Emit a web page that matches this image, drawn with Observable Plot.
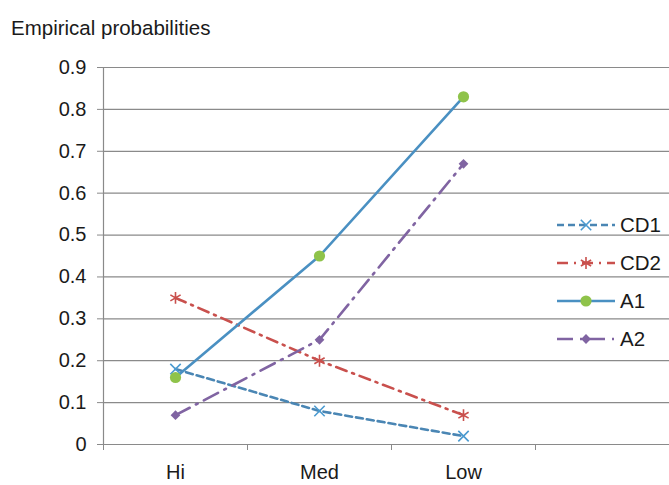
<!DOCTYPE html>
<html><head><meta charset="utf-8">
<script src="https://cdn.jsdelivr.net/npm/d3@7"></script>
<script src="https://cdn.jsdelivr.net/npm/@observablehq/plot@0.6"></script>
<style>
body{margin:0;background:#fff;font-family:"Liberation Sans",Arial,sans-serif;}
#wrap{position:relative;width:669px;height:485px;overflow:hidden;background:#fff;}
#title{position:absolute;left:11px;top:16px;font-size:20.5px;color:#1a1a1a;line-height:24px;white-space:nowrap;}
#chart{position:absolute;left:0;top:50px;}
#legend{position:absolute;left:555px;top:206px;}
.row{position:absolute;left:0;height:38px;display:flex;align-items:center;white-space:nowrap;font-size:20.5px;color:#1a1a1a;}
.row svg{display:block;margin-right:3px;}
</style></head>
<body>
<div id="wrap">
  <div id="title">Empirical probabilities</div>
  <div id="chart"></div>
  <div id="legend"></div>
</div>
<script>
// ---- data ----
const categories = ["Hi", "Med", "Low"];
const seriesNames = ["CD1", "CD2", "A1", "A2"];
const cd1 = [0.18, 0.08, 0.02];
const cd2 = [0.35, 0.20, 0.07];
const a1 = [0.16, 0.45, 0.83];
const a2 = [0.07, 0.25, 0.67];
const yTicks = [0, 0.1, 0.2, 0.3, 0.4, 0.5, 0.6, 0.7, 0.8, 0.9];

// ---- styles ----
const styles = {
  CD1: {line: "#4a86b4", marker: "#4a9ad0", dash: "7,4", symbol: "times", r: 4.8, fill: "none"},
  CD2: {line: "#c9504d", marker: "#c9504d", dash: "11,6,2,6", symbol: "asterisk", r: 5.6, fill: "none"},
  A1:  {line: "#4a90c2", marker: "#8fc34a", dash: null, symbol: "circle", r: 5.6, fill: "#8fc34a"},
  A2:  {line: "#8064a2", marker: "#8064a2", dash: "16,7,2,7", symbol: "diamond2", r: 4.4, fill: "#8064a2"}
};
const values = {CD1: cd1, CD2: cd2, A1: a1, A2: a2};
const rows = seriesNames.flatMap(s => values[s].map((v, i) => ({series: s, i, value: v})));

const grid = "#8a8a8a";
const marks = [
  Plot.ruleY(yTicks.filter(d => d > 0), {stroke: grid, strokeWidth: 1.2}),
  Plot.ruleY([0], {stroke: grid, strokeWidth: 1.2}),
  Plot.ruleX([-0.5], {stroke: grid, strokeWidth: 1.2}),
  Plot.axisY({ticks: yTicks, tickSize: 6, tickPadding: 11, stroke: grid, fontSize: 20, label: null,
    tickFormat: d => d === 0 ? "0" : d.toFixed(1)}),
  Plot.axisX({ticks: [-0.5, 0.5, 1.5, 2.5, 3.5], tickSize: 6, stroke: grid, label: null, tickFormat: () => ""}),
  Plot.axisX({ticks: [0, 1, 2], tickSize: 0, tickPadding: 20, fontSize: 20, label: null,
    tickFormat: i => categories[i]})
];
for (const s of seriesNames) {
  const st = styles[s];
  const data = rows.filter(d => d.series === s);
  marks.push(Plot.line(data, {x: "i", y: "value", stroke: st.line, strokeWidth: 2.6,
    strokeDasharray: st.dash || undefined}));
}
for (const s of seriesNames) {
  const st = styles[s];
  const data = rows.filter(d => d.series === s);
  marks.push(Plot.dot(data, {x: "i", y: "value", symbol: st.symbol, r: st.r,
    stroke: st.fill === "none" ? st.marker : null, fill: st.fill === "none" ? "none" : st.fill,
    strokeWidth: 1.6}));
}

const chart = Plot.plot({
  width: 669,
  height: 435,
  marginLeft: 103,
  marginRight: -10,
  marginTop: 17,
  marginBottom: 41,
  style: {fontFamily: "'Liberation Sans', Arial, sans-serif", color: "#1a1a1a", background: "#fff", overflow: "hidden"},
  x: {type: "linear", domain: [-0.5, 3.5], axis: null},
  y: {domain: [0, 0.9], axis: null},
  marks
});
document.getElementById("chart").append(chart);

// ---- legend ----
const legend = d3.select("#legend");
seriesNames.forEach((s, k) => {
  const st = styles[s];
  const row = legend.append("div").attr("class", "row").style("top", (k * 38) + "px");
  const svg = row.append("svg").attr("width", 62).attr("height", 20);
  svg.append("line").attr("x1", 2).attr("x2", 60).attr("y1", 10).attr("y2", 10)
    .attr("stroke", st.line).attr("stroke-width", 2.6)
    .attr("stroke-dasharray", st.dash || null);
  const symMap = {times: d3.symbolTimes, asterisk: d3.symbolAsterisk, circle: d3.symbolCircle, diamond2: d3.symbolDiamond2};
  svg.append("path").attr("transform", "translate(31,10)")
    .attr("d", d3.symbol(symMap[st.symbol], Math.PI * st.r * st.r)())
    .attr("fill", st.fill).attr("stroke", st.fill === "none" ? st.marker : null)
    .attr("stroke-width", 1.6);
  row.append("span").text(s);
});
</script>
</body></html>
